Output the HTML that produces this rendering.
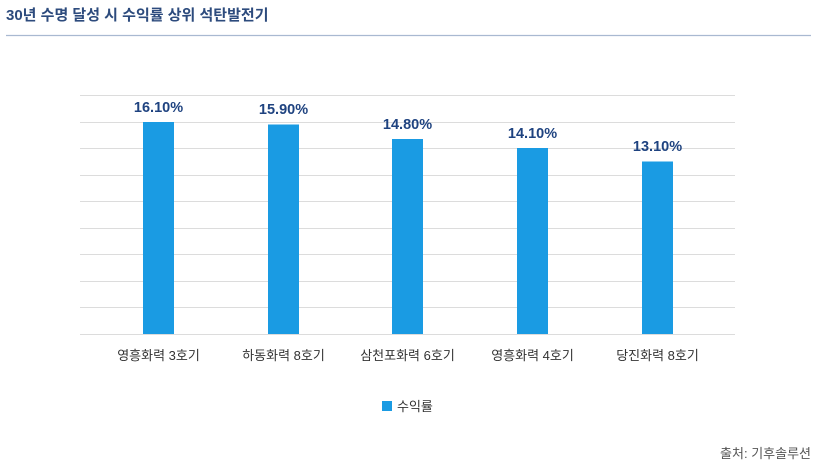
<!DOCTYPE html>
<html><head><meta charset="utf-8"><style>
body{margin:0;background:#fff;}
svg{display:block;font-family:"Liberation Sans","Noto Sans CJK KR",sans-serif;}
</style></head><body>
<svg width="819" height="475" viewBox="0 0 819 475" xmlns="http://www.w3.org/2000/svg">
<rect width="819" height="475" fill="#ffffff"/>
<text x="6" y="20" font-size="15" font-weight="bold" fill="#2d4b7d">30년 수명 달성 시 수익률 상위 석탄발전기</text>
<line x1="6" y1="35.5" x2="811" y2="35.5" stroke="#a9b9d1" stroke-width="1.2"/>
<g stroke="#dcdcdc" stroke-width="1">
<line x1="80" y1="95.5" x2="735" y2="95.5"/>
<line x1="80" y1="122.5" x2="735" y2="122.5"/>
<line x1="80" y1="148.5" x2="735" y2="148.5"/>
<line x1="80" y1="175.5" x2="735" y2="175.5"/>
<line x1="80" y1="201.5" x2="735" y2="201.5"/>
<line x1="80" y1="228.5" x2="735" y2="228.5"/>
<line x1="80" y1="254.5" x2="735" y2="254.5"/>
<line x1="80" y1="281.5" x2="735" y2="281.5"/>
<line x1="80" y1="307.5" x2="735" y2="307.5"/>
<line x1="80" y1="334.5" x2="735" y2="334.5"/>
</g>
<g fill="#1a9be3">
<rect x="143" y="122" width="31" height="212"/>
<rect x="268" y="124.5" width="31" height="209.5"/>
<rect x="392" y="139" width="31" height="195"/>
<rect x="517" y="148" width="31" height="186"/>
<rect x="642" y="161.5" width="31" height="172.5"/>
</g>
<g font-size="14.5" font-weight="bold" fill="#1f4380" text-anchor="middle">
<text x="158.5" y="112">16.10%</text>
<text x="283.5" y="114">15.90%</text>
<text x="407.5" y="129">14.80%</text>
<text x="532.5" y="138">14.10%</text>
<text x="657.5" y="151">13.10%</text>
</g>
<g font-size="13" fill="#333" text-anchor="middle">
<text x="158.5" y="360">영흥화력 3호기</text>
<text x="283.5" y="360">하동화력 8호기</text>
<text x="407.5" y="360">삼천포화력 6호기</text>
<text x="532.5" y="360">영흥화력 4호기</text>
<text x="657.5" y="360">당진화력 8호기</text>
</g>
<rect x="382" y="401" width="10" height="10" fill="#1a9be3"/>
<text x="397" y="411" font-size="13" fill="#333">수익률</text>
<text x="811" y="458" font-size="13" fill="#555" text-anchor="end">출처: 기후솔루션</text>
</svg>
</body></html>
